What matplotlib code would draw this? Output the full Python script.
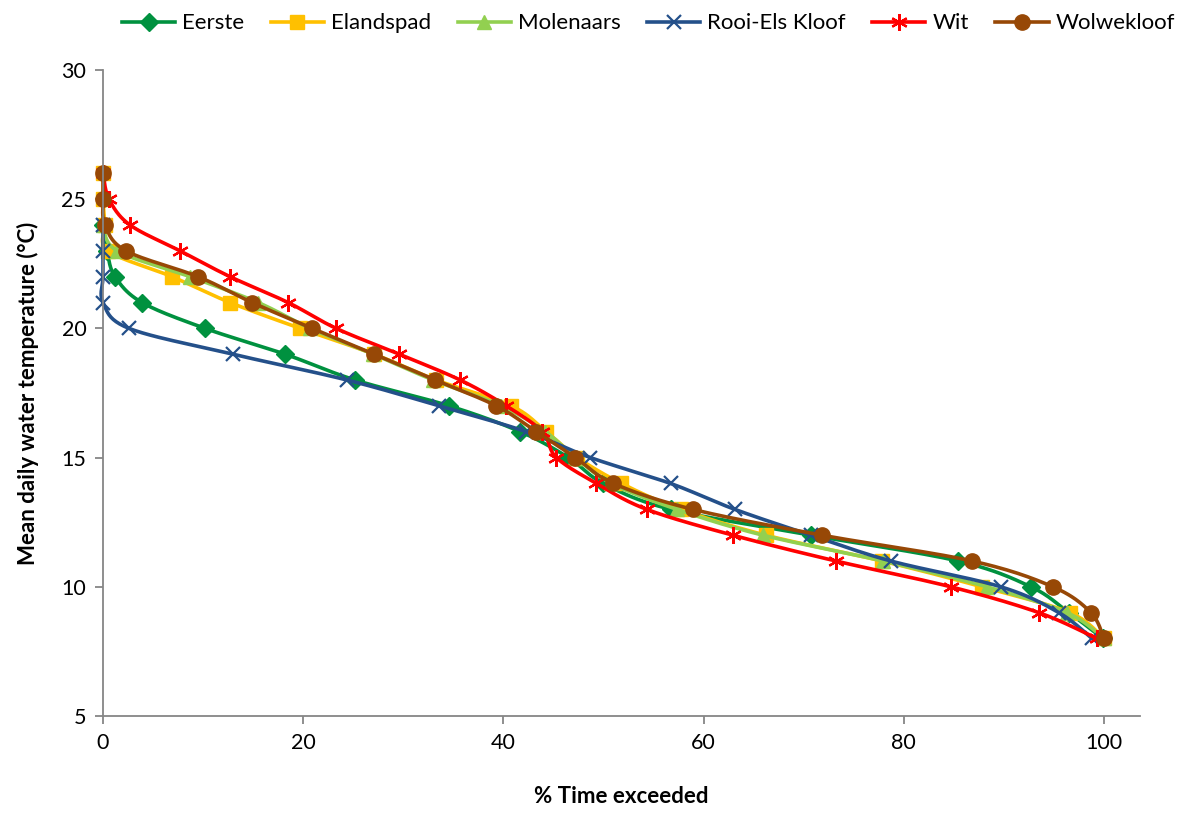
import numpy as np
import matplotlib
matplotlib.use("Agg")
import matplotlib.pyplot as plt
from matplotlib.lines import Line2D

plt.rcParams['font.family'] = ['Lato', 'DejaVu Sans']

# Flow-duration style data: % time exceeded for each mean daily temperature
eerste_t = list(range(24, 7, -1))
eerste_x = [0, 0.4, 1.2, 3.9, 10.2, 18.2, 25.2, 34.6, 41.7, 46.5, 50.0, 56.7, 70.7, 85.4, 92.7, 96.5, 99.9]

elandspad_t = list(range(26, 7, -1))
elandspad_x = [0, 0, 0.2, 0.5, 6.9, 12.7, 19.7, 27.1, 33.3, 40.8, 44.3, 47.4, 51.8, 57.7, 66.2, 77.8, 87.8, 96.6, 100]

molenaars_t = list(range(24, 7, -1))
molenaars_x = [0, 1.4, 8.7, 15.5, 20.7, 27.0, 33.0, 39.8, 44.2, 47.2, 50.8, 57.3, 65.9, 77.9, 88.3, 96.3, 100]

rooiels_t = list(range(24, 7, -1))
rooiels_x = [0, 0, 0, 0, 2.6, 13.0, 24.4, 33.6, 42.3, 48.7, 56.7, 63.1, 70.7, 78.7, 89.7, 95.5, 98.8]

wit_t = list(range(26, 7, -1))
wit_x = [0, 0.6, 2.7, 7.7, 12.7, 18.5, 23.3, 29.6, 35.7, 40.3, 43.9, 45.3, 49.3, 54.3, 62.9, 73.2, 84.7, 93.5, 99.3]

wolwe_t = list(range(26, 7, -1))
wolwe_x = [0, 0, 0.2, 2.3, 9.5, 14.9, 20.9, 27.1, 33.2, 39.3, 43.3, 47.2, 51.0, 58.9, 71.8, 86.8, 94.9, 98.7, 100]


def smooth(x, y, n=24):
    # Excel-like smoothed line (cubic Bezier, Catmull-Rom control points)
    x = np.asarray(x, float)
    y = np.asarray(y, float)
    px = np.concatenate([[x[0]], x, [x[-1]]])
    py = np.concatenate([[y[0]], y, [y[-1]]])
    xs, ys = [], []
    t = np.linspace(0, 1, n)
    for i in range(1, len(px) - 2):
        p0 = np.array([px[i], py[i]])
        p3 = np.array([px[i + 1], py[i + 1]])
        c1 = p0 + (np.array([px[i + 1], py[i + 1]]) - np.array([px[i - 1], py[i - 1]])) / 6
        c2 = p3 - (np.array([px[i + 2], py[i + 2]]) - np.array([px[i], py[i]])) / 6
        b = ((1 - t) ** 3)[:, None] * p0 + (3 * (1 - t) ** 2 * t)[:, None] * c1 \
            + (3 * (1 - t) * t ** 2)[:, None] * c2 + (t ** 3)[:, None] * p3
        xs.append(b[:, 0])
        ys.append(b[:, 1])
    return np.concatenate(xs), np.concatenate(ys)


series = [
    ("Eerste", eerste_x, eerste_t, "#00913F", "D", 9, 1),
    ("Elandspad", elandspad_x, elandspad_t, "#FFC000", "s", 10, 1),
    ("Molenaars", molenaars_x, molenaars_t, "#92D050", "^", 10, 1),
    ("Rooi-Els Kloof", rooiels_x, rooiels_t, "#24508A", "x", 10, 1.6),
    ("Wit", wit_x, wit_t, "#FF0000", (6, 2, 0), 12, 1.6),
    ("Wolwekloof", wolwe_x, wolwe_t, "#974806", "o", 11, 1),
]

fig = plt.figure(figsize=(11.83, 8.14), dpi=100)
ax = fig.add_axes([0.0871, 0.1204, 0.8765, 0.7936])

handles = []
for name, xv, yv, col, mk, ms, mew in series:
    sx, sy = smooth(xv, yv)
    ax.plot(sx, sy, color=col, lw=2.6, solid_capstyle='round', clip_on=False)
    ax.plot(xv, yv, ls='none', marker=mk, ms=ms, color=col, mec=col, mew=mew, clip_on=False)
    handles.append(Line2D([], [], color=col, lw=2.6, marker=mk, ms=ms, mec=col, mew=mew))

ax.set_xlim(0, 103.6)
ax.set_ylim(5, 30)
ax.set_xticks(range(0, 101, 20))
ax.set_yticks(range(5, 31, 5))
for s in ("top", "right"):
    ax.spines[s].set_visible(False)
for s in ("left", "bottom"):
    ax.spines[s].set_color("#868686")
    ax.spines[s].set_linewidth(1.3)
ax.tick_params(axis="both", direction="out", length=6, width=1.3, color="#868686",
               labelsize=15.5, pad=6)

ax.set_xlabel("% Time exceeded", fontsize=16, fontweight="bold", labelpad=24)
ax.set_ylabel("Mean daily water temperature (°C)", fontsize=16, fontweight="bold", labelpad=16)

fig.legend(handles, [s[0] for s in series], loc="upper center", bbox_to_anchor=(0.548, 1.008),
           ncol=6, frameon=False, fontsize=16, handlelength=2.4, columnspacing=1.2,
           handletextpad=0.3)

fig.savefig("out.png", dpi=100)
